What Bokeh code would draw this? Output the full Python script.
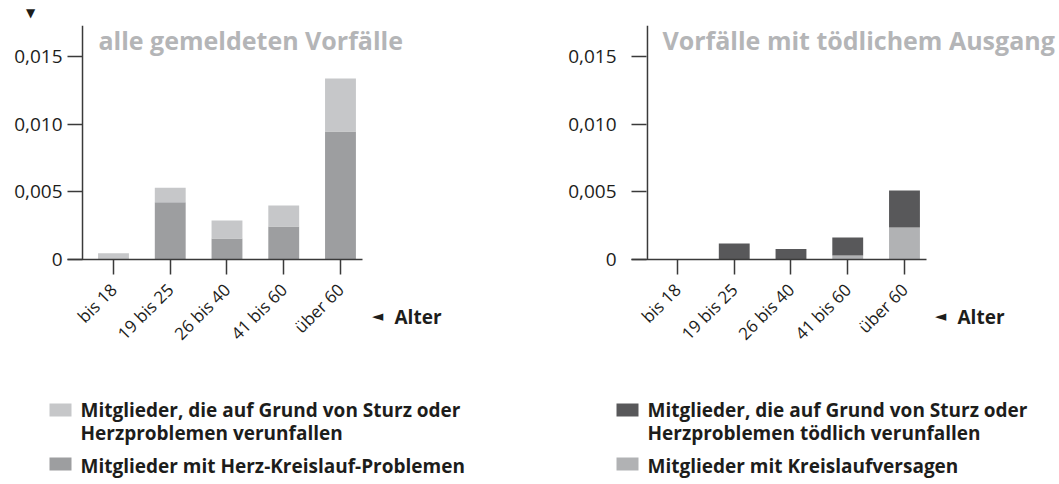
import math
from bokeh.plotting import figure
from bokeh.models import Range1d, FixedTicker, Span, GridBox
from bokeh.core.properties import value
from bokeh.embed import file_html
from bokeh.resources import INLINE

categories = ["bis 18", "19 bis 25", "26 bis 40", "41 bis 60", "über 60"]

# left panel: "alle gemeldeten Vorfälle"
left_herz_kreislauf = [0.0, 0.00424, 0.00156, 0.00244, 0.00948]      # dark, bottom
left_sturz_herz = [0.00047, 0.00107, 0.00133, 0.00156, 0.00393]      # light, on top

# right panel: "Vorfälle mit tödlichem Ausgang"
right_kreislaufversagen = [0.0, 0.0, 0.0, 0.00030, 0.00237]           # light, bottom
right_sturz_herz_toedlich = [0.0, 0.00119, 0.00077, 0.00133, 0.00274]  # dark, on top

y_ticks = [0.0, 0.005, 0.010, 0.015]
y_tick_labels = ["0", "0,005", "0,010", "0,015"]

titles = ["alle gemeldeten Vorfälle", "Vorfälle mit tödlichem Ausgang"]
axis_name = "Alter"
legend_left = [["Mitglieder, die auf Grund von Sturz oder", "Herzproblemen verunfallen"],
               ["Mitglieder mit Herz-Kreislauf-Problemen"]]
legend_right = [["Mitglieder, die auf Grund von Sturz oder", "Herzproblemen tödlich verunfallen"],
                ["Mitglieder mit Kreislaufversagen"]]

C_LEFT_LIGHT = "#c6c7c9"
C_LEFT_DARK = "#9d9ea0"
C_RIGHT_DARK = "#58585a"
C_RIGHT_LIGHT = "#b1b2b4"
C_TITLE = "#b4b5b7"
C_TEXT = "#1d1d1b"
C_AXIS = "#3a3a3a"
FONT = "Open Sans"

W, H = 1059, 484
X0, X1 = -0.8106, 4.388
YTOP = 0.017333


def make_chart(width, bl, br, label_standoff, axis_x, bottom_vals, top_vals, c_bottom, c_top):
    p = figure(width=width, height=H, output_backend="svg", toolbar_location=None,
               x_range=Range1d(X0, X1), y_range=Range1d(0, YTOP),
               min_border_left=bl, min_border_right=br, min_border_top=25,
               min_border_bottom=H - 259)
    p.outline_line_color = None
    p.grid.visible = False
    p.background_fill_color = "white"
    p.border_fill_color = "white"

    xs = list(range(len(categories)))
    tops1 = list(bottom_vals)
    tops2 = [a + b for a, b in zip(bottom_vals, top_vals)]
    p.vbar(x=xs, bottom=0, top=tops1, width=0.544, color=c_bottom, line_color=None)
    p.vbar(x=xs, bottom=tops1, top=tops2, width=0.544, color=c_top, line_color=None)

    xa = p.xaxis[0]
    xa.ticker = FixedTicker(ticks=xs)
    xa.major_label_overrides = {i: c for i, c in zip(xs, categories)}
    xa.major_label_orientation = math.pi / 4
    xa.major_tick_in = 0
    xa.major_tick_out = 15
    xa.minor_tick_line_color = None
    xa.axis_line_color = C_AXIS
    xa.axis_line_width = 1.5
    xa.major_tick_line_color = C_AXIS
    xa.major_tick_line_width = 1.5
    xa.major_label_text_font = FONT
    xa.major_label_text_font_size = "17px"
    xa.major_label_text_color = C_TEXT
    xa.major_label_standoff = 12

    ya = p.yaxis[0]
    ya.ticker = FixedTicker(ticks=y_ticks)
    ya.major_label_overrides = {t: s for t, s in zip(y_ticks, y_tick_labels)}
    ya.major_tick_in = 15
    ya.major_tick_out = 0
    ya.minor_tick_line_color = None
    ya.axis_line_color = None
    ya.major_tick_line_color = C_AXIS
    ya.major_tick_line_width = 1.5
    ya.major_label_text_font = FONT
    ya.major_label_text_font_size = "19px"
    ya.major_label_text_color = C_TEXT
    ya.major_label_standoff = label_standoff

    p.add_layout(Span(location=axis_x, dimension="height", line_color=C_AXIS, line_width=1.5))
    return p


chart1 = make_chart(540, 67, 540 - 362, 5, -0.546, left_herz_kreislauf, left_sturz_herz,
                    C_LEFT_DARK, C_LEFT_LIGHT)
chart2 = make_chart(519, 631 - 540, 1059 - 926, 15, -0.529, right_kreislaufversagen,
                    right_sturz_herz_toedlich, C_RIGHT_LIGHT, C_RIGHT_DARK)

# transparent overlay carrying the free texts and the legends (page pixel coordinates)
ov = figure(width=W, height=H, output_backend="svg", toolbar_location=None,
            x_range=Range1d(0, W), y_range=Range1d(H, 0),
            x_axis_type=None, y_axis_type=None, min_border=0,
            min_border_left=0, min_border_right=0, min_border_top=0, min_border_bottom=0)
ov.outline_line_color = None
ov.background_fill_color = None
ov.border_fill_color = None
ov.grid.visible = False
try:
    ov.frame_align = False
except AttributeError:
    pass

# panel titles
ov.text(x=[98, 662], y=[39, 39], text=titles, text_font=value(FONT), text_font_style="bold",
        text_font_size="25px", text_color=C_TITLE, text_baseline="alphabetic")
# small marker above the y axis labels
ov.text(x=[30], y=[12.5], text=["▼"], text_font=value("DejaVu Sans"), text_font_size="12px",
        text_color=C_TEXT, text_align="center", text_baseline="middle")
# axis name
ov.text(x=[377, 940], y=[315, 315], text=["◄", "◄"], text_font=value("DejaVu Sans"),
        text_font_size="15px", text_color=C_TEXT, text_align="center", text_baseline="middle")
ov.text(x=[394, 957], y=[316, 316], text=[axis_name, axis_name], text_font=value(FONT),
        text_font_style="bold", text_font_size="19px", text_color=C_TEXT,
        text_baseline="alphabetic")

# legends
sq_left = [49, 616]
txt_left = [80, 647]
sq_tops = [403, 457]
line_bases = [[409, 432], [465]]
for items, colors, sx, tx in [(legend_left, [C_LEFT_LIGHT, C_LEFT_DARK], sq_left[0], txt_left[0]),
                              (legend_right, [C_RIGHT_DARK, C_RIGHT_LIGHT], sq_left[1], txt_left[1])]:
    for lines, col, st, bases in zip(items, colors, sq_tops, line_bases):
        ov.quad(left=[sx], right=[sx + 22], top=[st], bottom=[st + 13], color=col, line_color=None)
        ov.text(x=[tx] * len(lines), y=bases, text=lines, text_font=value(FONT),
                text_font_style="bold", text_font_size="19px", text_color=C_TEXT,
                text_baseline="alphabetic")

layout = GridBox(children=[(chart1, 0, 0), (chart2, 0, 1), (ov, 0, 0, 1, 2)])
open("out.html", "w").write(file_html(layout, INLINE))
